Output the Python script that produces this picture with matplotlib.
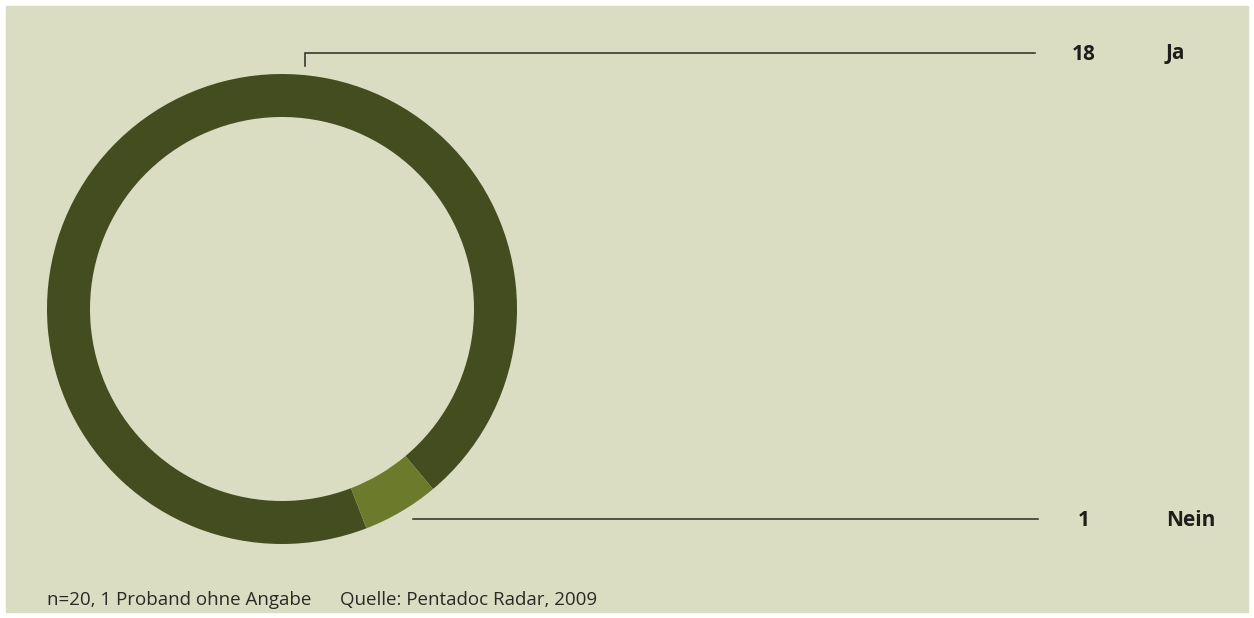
import matplotlib.pyplot as plt
from matplotlib.patches import Rectangle

# Umfrageergebnis
labels = ['Ja', 'Nein']
counts = [18, 1]
colors = ['#434d1f', '#6b7a2b']
footnote = 'n=20, 1 Proband ohne Angabe'
source = 'Quelle: Pentadoc Radar, 2009'

W, H = 1254, 618
fig = plt.figure(figsize=(W / 100, H / 100), dpi=100, facecolor='white')
ax = fig.add_axes([0, 0, 1, 1])
ax.set_xlim(0, W)
ax.set_ylim(0, H)
ax.set_aspect('equal')
ax.axis('off')

ax.add_patch(Rectangle((6, 6), W - 12, H - 12, color='#dbddc3', zorder=0))

# Ring
cx, cy, r = 282, H - 309, 235
ax.pie(counts, colors=colors, startangle=-50, counterclock=True,
       center=(cx, cy), radius=r, frame=True,
       wedgeprops=dict(width=43, linewidth=0))
ax.set_xlim(0, W)
ax.set_ylim(0, H)
ax.axis('off')

# Leader lines
line_col = '#2b2b22'
y_top = H - 53
ax.plot([305, 305, 1035], [H - 66, y_top, y_top], color=line_col, lw=1.1,
        solid_joinstyle='miter')
y_bot = H - 519
ax.plot([413, 1038], [y_bot, y_bot], color=line_col, lw=1.1)

font = 'Open Sans'
txt_col = '#1e1e1a'
for y, n, lab in [(y_top, counts[0], labels[0]), (y_bot, counts[1], labels[1])]:
    ax.text(1084, y - 1, str(n), ha='center', va='center', fontsize=15,
            fontweight='bold', family=font, color=txt_col)
    ax.text(1166, y - 1, lab, ha='left', va='center', fontsize=15,
            fontweight='bold', family=font, color=txt_col)

ax.text(47, H - 600, footnote, ha='left', va='center', fontsize=13.5,
        family=font, color='#2a2a24')
ax.text(340, H - 600, source, ha='left', va='center', fontsize=13.5,
        family=font, color='#2a2a24')

fig.savefig('out.png', dpi=100, facecolor='white')
